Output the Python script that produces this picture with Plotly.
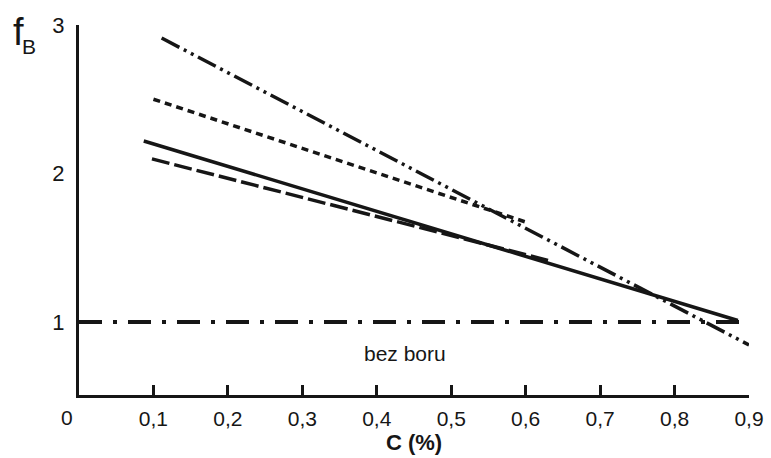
import plotly.graph_objects as go

# Data
solid_x = [0.087, 0.885]
solid_y = [2.219, 1.010]
longdash_x = [0.098, 0.630]
longdash_y = [2.098, 1.415]
shortdash_x = [0.100, 0.600]
shortdash_y = [2.500, 1.673]
dashdotdot_x = [0.111, 0.900]
dashdotdot_y = [2.912, 0.845]
ref_x = [0.0, 0.9]
ref_y = [1.0, 1.0]

x_ticks = [0.1, 0.2, 0.3, 0.4, 0.5, 0.6, 0.7, 0.8, 0.9]
x_labels = ["0,1", "0,2", "0,3", "0,4", "0,5", "0,6", "0,7", "0,8", "0,9"]
y_ticks = [1, 2, 3]
y_labels = ["1", "2", "3"]

INK = "#161616"
FONT = "Liberation Sans, Arial, sans-serif"

fig = go.Figure()
fig.add_trace(go.Scatter(x=ref_x, y=ref_y, mode="lines",
                         line=dict(color=INK, width=4, dash="23px,11px,4px,11px")))
fig.add_trace(go.Scatter(x=solid_x, y=solid_y, mode="lines",
                         line=dict(color=INK, width=3.5)))
fig.add_trace(go.Scatter(x=longdash_x, y=longdash_y, mode="lines",
                         line=dict(color=INK, width=3.5, dash="18px,5px")))
fig.add_trace(go.Scatter(x=shortdash_x, y=shortdash_y, mode="lines",
                         line=dict(color=INK, width=3.5, dash="7px,5px")))
fig.add_trace(go.Scatter(x=dashdotdot_x, y=dashdotdot_y, mode="lines",
                         line=dict(color=INK, width=3.5, dash="20px,5px,3px,5px,3px,5px")))

L, R, T, B = 79, 22, 25, 63
W, H = 771, 458
pw, ph = W - L - R, H - T - B


def px_to_paper(px, py):
    return (px - L) / pw, (H - B - py) / ph


def corner_text(text, px, py, size):
    x, y = px_to_paper(px, py)
    return dict(text=text, x=x, y=y, xref="paper", yref="paper", showarrow=False,
                xanchor="center", yanchor="middle", font=dict(size=size, color=INK))


fig.update_layout(
    width=W, height=H,
    margin=dict(l=L, r=R, t=T, b=B, autoexpand=False),
    paper_bgcolor="white", plot_bgcolor="white",
    showlegend=False,
    font=dict(family=FONT, color=INK),
    xaxis=dict(range=[0, 0.9], tickvals=x_ticks, ticktext=x_labels, automargin=False,
               showgrid=False, zeroline=False, showline=True, linecolor=INK, linewidth=3,
               ticks="inside", ticklen=10, tickwidth=3, tickcolor=INK,
               tickfont=dict(size=21, color=INK), ticklabelstandoff=3,
               title=dict(text="<b>C (%)</b>", font=dict(size=22, color=INK), standoff=4)),
    yaxis=dict(range=[0.508, 3.0], tickvals=y_ticks, ticktext=y_labels, automargin=False,
               showgrid=False, zeroline=False, showline=True, linecolor=INK, linewidth=3,
               ticks="", tickfont=dict(size=22, color=INK), ticklabelstandoff=7),
    annotations=[
        corner_text("0", 67, 417, 21),
        dict(text="bez boru", x=0.438, y=0.79, xref="x", yref="y", showarrow=False,
             xanchor="center", yanchor="middle", font=dict(size=21, color=INK)),
        corner_text("f", 18, 32, 38),
        corner_text("B", 29, 47, 21),
    ],
)

fig.write_html("out.html")
